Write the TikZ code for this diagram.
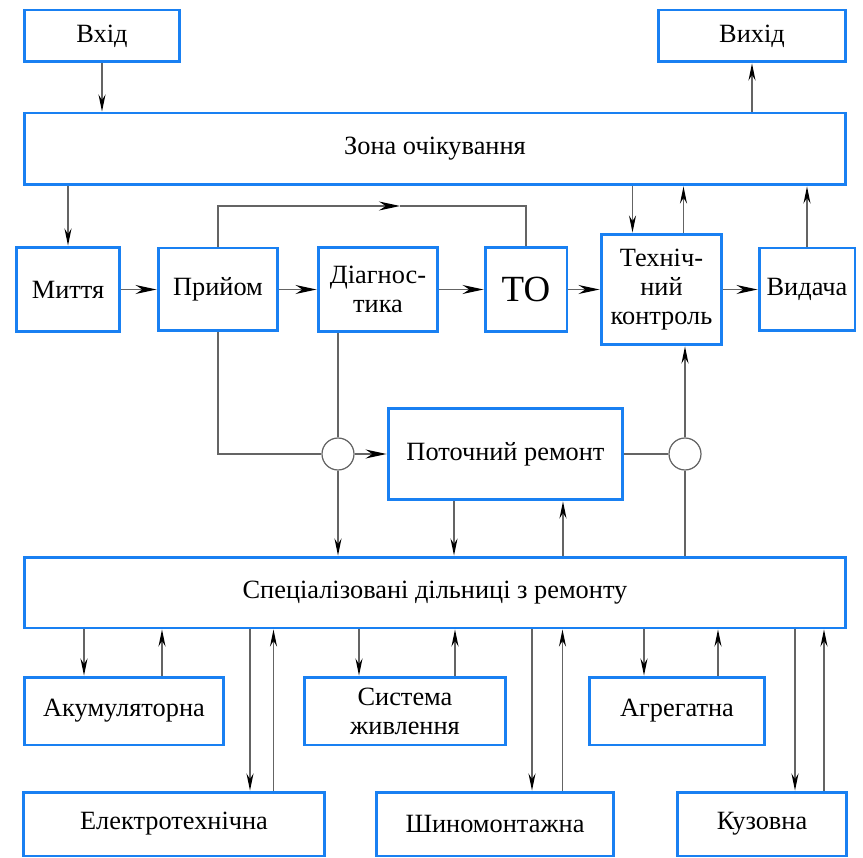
\documentclass[tikz,border=0pt]{standalone}
\usepackage{fontspec}
\setmainfont{Liberation Serif}
\usetikzlibrary{arrows.meta}
\definecolor{boxblue}{RGB}{25,128,242}
\definecolor{wiregray}{RGB}{100,100,100}
\tikzset{
  block/.style={draw=boxblue, line width=1.7pt, inner sep=0pt, align=center,
    font=\fontsize{15}{16.5}\selectfont},
  joint/.style={draw=wiregray, line width=0.7pt, circle, minimum size=0.64cm, inner sep=0pt},
  wire/.style={draw=wiregray, line width=0.7pt},
  arr/.style={wire, -{Stealth[length=3.4mm, width=1.4mm, black]}},
  harr/.style={wire, -{Stealth[length=4.2mm, width=1.8mm, black]}}
}
\begin{document}
\begin{tikzpicture}[x=0.02cm, y=-0.02cm]
            \useasboundingbox (0,0) rectangle (863,858);

            % Top row
            \node[block, minimum width=3.12cm, minimum height=1.04cm] (vkhid) at (102,36) {Вхід};
            \node[block, minimum width=3.74cm, minimum height=1.04cm] (vykhid) at (752,36) {Вихід};
            \node[block, minimum width=16.42cm, minimum height=1.44cm] (zona) at (435,149) {Зона очікування};

            % Main line
            \node[block, minimum width=2.08cm, minimum height=1.70cm] (myttia) at (68,289.5) {Миття};
            \node[block, minimum width=2.40cm, minimum height=1.66cm] (pryiom) at (218,289.5) {Прийом};
            \node[block, minimum width=2.40cm, minimum height=1.68cm] (diag) at (378,289.5) {Діагнос-\\тика};
            \node[block, minimum width=1.64cm, minimum height=1.68cm, font=\fontsize{21}{24}\selectfont] (to) at (526,289.5) {ТО};
            \node[block, minimum width=2.42cm, minimum height=2.22cm] (tekhn) at (661.5,289.5) {Техніч-\\ний\\контроль};
            \node[block, minimum width=1.92cm, minimum height=1.66cm] (vydacha) at (807,289.5) {Видача};

            % Current repair and joints
            \node[block, minimum width=4.70cm, minimum height=1.84cm] (potoch) at (505.5,454) {Поточний ремонт};
            \node[joint] (jleft) at (338,454) {};
            \node[joint] (jright) at (685,454) {};
            \node[block, minimum width=16.44cm, minimum height=1.42cm] (spec) at (435,592.5) {Спеціалізовані дільниці з ремонту};

            % Repair shops
            \node[block, minimum width=4.00cm, minimum height=1.36cm] (akum) at (124,711) {Акумуляторна};
            \node[block, minimum width=4.04cm, minimum height=1.36cm] (syst) at (405,711) {Система\\живлення};
            \node[block, minimum width=3.52cm, minimum height=1.36cm] (agreg) at (677,711) {Агрегатна};
            \node[block, minimum width=6.04cm, minimum height=1.28cm] (elek) at (174,824) {Електротехнічна};
            \node[block, minimum width=4.76cm, minimum height=1.28cm] (shyno) at (495,824) {Шиномонтажна};
            \node[block, minimum width=3.40cm, minimum height=1.28cm] (kuz) at (762,824) {Кузовна};

            % Links to the waiting zone
            \draw[arr] (vkhid.south) -- (vkhid.south |- zona.north);
            \draw[arr] (zona.north -| vykhid) -- (vykhid.south);
            \draw[arr] (zona.south -| myttia) -- (myttia.north);
            \draw[arr] ([xshift=-0.58cm]tekhn.north |- zona.south) -- ([xshift=-0.58cm]tekhn.north);
            \draw[arr] ([xshift=0.44cm]tekhn.north) -- ([xshift=0.44cm]tekhn.north |- zona.south);
            \draw[arr] (vydacha.north) -- (vydacha.north |- zona.south);

            % Main line arrows
            \draw[harr] (myttia.east) -- (pryiom.west);
            \draw[harr] (pryiom.east) -- (diag.west);
            \draw[harr] (diag.east) -- (to.west);
            \draw[harr] (to.east) -- (tekhn.west);
            \draw[harr] (tekhn.east) -- (vydacha.west);

            % Bypass over the top
            \coordinate (bypass) at (400,206);
            \draw[harr] (pryiom.north) |- (bypass);
            \draw[wire] (bypass) -| (to.north);

            % Routes to current repair
            \draw[wire] (pryiom.south) |- (jleft.west);
            \draw[wire] (diag.south -| jleft) -- (jleft.north);
            \draw[harr] (jleft.east) -- (potoch.west);
            \draw[arr] (jleft.south) -- (jleft |- spec.north);
            \draw[arr] ([xshift=-1.03cm]potoch.south) -- ([xshift=-1.03cm]potoch.south |- spec.north);
            \draw[arr] ([xshift=1.15cm]potoch.south |- spec.north) -- ([xshift=1.15cm]potoch.south);
            \draw[wire] (potoch.east) -- (jright.west);
            \draw[wire] (jright |- spec.north) -- (jright.south);
            \draw[arr] (jright.north) -- (jright |- tekhn.south);

            % Shops
            \foreach \shop/\down/\up in {akum/84/162, elek/250/273.5, syst/359/455,
                                         shyno/532/562.5, agreg/644/718, kuz/795/824}
            {
                \coordinate (dn) at (\down,0);
                \coordinate (upw) at (\up,0);
                \draw[arr] (spec.south -| dn) -- (\shop.north -| dn);
                \draw[arr] (\shop.north -| upw) -- (spec.south -| upw);
            }
        \end{tikzpicture}
\end{document}
